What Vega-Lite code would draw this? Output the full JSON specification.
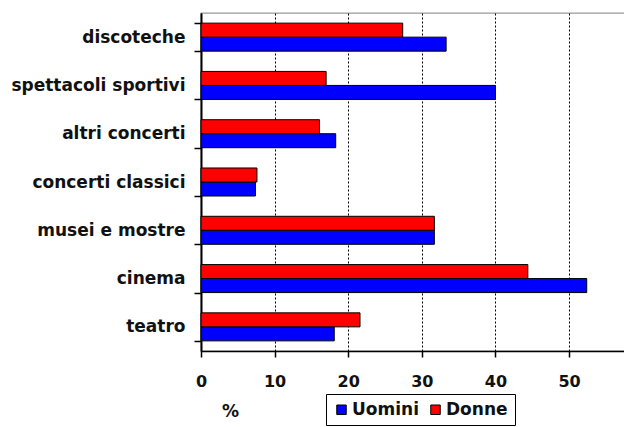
{
  "$schema": "https://vega.github.io/schema/vega-lite/v6.json",
  "autosize": {"type": "none"},
  "padding": {"left": 201, "top": 13, "right": 0, "bottom": 76},
  "width": 424,
  "height": 338,
  "background": "white",
  "config": {
    "font": "DejaVu Sans",
    "view": {"stroke": "#999999", "strokeWidth": 1.3}
  },
  "data": {
    "values": [
      {"attivita": "discoteche", "sesso": "Uomini", "valore": 33.3},
      {"attivita": "discoteche", "sesso": "Donne", "valore": 27.4},
      {"attivita": "spettacoli sportivi", "sesso": "Uomini", "valore": 40.0},
      {"attivita": "spettacoli sportivi", "sesso": "Donne", "valore": 17.0},
      {"attivita": "altri concerti", "sesso": "Uomini", "valore": 18.3},
      {"attivita": "altri concerti", "sesso": "Donne", "valore": 16.1},
      {"attivita": "concerti classici", "sesso": "Uomini", "valore": 7.4},
      {"attivita": "concerti classici", "sesso": "Donne", "valore": 7.6},
      {"attivita": "musei e mostre", "sesso": "Uomini", "valore": 31.7},
      {"attivita": "musei e mostre", "sesso": "Donne", "valore": 31.7},
      {"attivita": "cinema", "sesso": "Uomini", "valore": 52.4},
      {"attivita": "cinema", "sesso": "Donne", "valore": 44.4},
      {"attivita": "teatro", "sesso": "Uomini", "valore": 18.1},
      {"attivita": "teatro", "sesso": "Donne", "valore": 21.6}
    ]
  },
  "mark": {"type": "bar", "stroke": "black", "strokeWidth": 1},
  "encoding": {
    "y": {
      "field": "attivita",
      "type": "nominal",
      "sort": ["discoteche", "spettacoli sportivi", "altri concerti", "concerti classici", "musei e mostre", "cinema", "teatro"],
      "scale": {"paddingInner": 0.42, "paddingOuter": 0.21},
      "axis": {
        "title": null,
        "domainColor": "black",
        "domainWidth": 2,
        "tickColor": "black",
        "tickWidth": 1.5,
        "tickSize": 7,
        "tickBand": "extent",
        "labelFont": "DejaVu Sans",
        "labelFontWeight": "bold",
        "labelFontSize": 17,
        "labelColor": "#111111",
        "labelPadding": 9,
        "labelLimit": 250,
        "grid": false
      }
    },
    "yOffset": {
      "field": "sesso",
      "type": "nominal",
      "scale": {"domain": ["Donne", "Uomini"], "paddingInner": 0, "paddingOuter": 0}
    },
    "x": {
      "field": "valore",
      "type": "quantitative",
      "scale": {"domain": [0, 57.6], "nice": false, "zero": true},
      "axis": {
        "values": [0, 10, 20, 30, 40, 50],
        "title": "%",
        "titleFont": "DejaVu Sans",
        "titleFontWeight": "bold",
        "titleFontSize": 17,
        "titleColor": "#111111",
        "titleX": 29,
        "titleY": 60,
        "titleAlign": "center",
        "titleBaseline": "middle",
        "domainColor": "black",
        "domainWidth": 1.5,
        "tickColor": "black",
        "tickWidth": 1.5,
        "tickSize": 6,
        "labelFont": "DejaVu Sans",
        "labelFontWeight": "bold",
        "labelFontSize": 16,
        "labelColor": "#111111",
        "labelPadding": 24.5,
        "labelBaseline": "middle",
        "labelFlush": false,
        "grid": true,
        "gridColor": "black",
        "gridDash": [2, 2],
        "gridWidth": 1
      }
    },
    "color": {
      "field": "sesso",
      "type": "nominal",
      "scale": {"domain": ["Uomini", "Donne"], "range": ["#0000ff", "#ff0000"]},
      "legend": {
        "title": null,
        "orient": "none",
        "legendX": 125,
        "legendY": 381,
        "direction": "horizontal",
        "strokeColor": "black",
        "padding": 7,
        "symbolType": "square",
        "symbolSize": 90,
        "symbolStrokeColor": "black",
        "symbolStrokeWidth": 1,
        "symbolOpacity": 1,
        "labelFont": "DejaVu Sans",
        "labelFontWeight": "bold",
        "labelFontSize": 17,
        "labelColor": "#111111",
        "labelOffset": 2,
        "columnPadding": 8
      }
    }
  }
}
